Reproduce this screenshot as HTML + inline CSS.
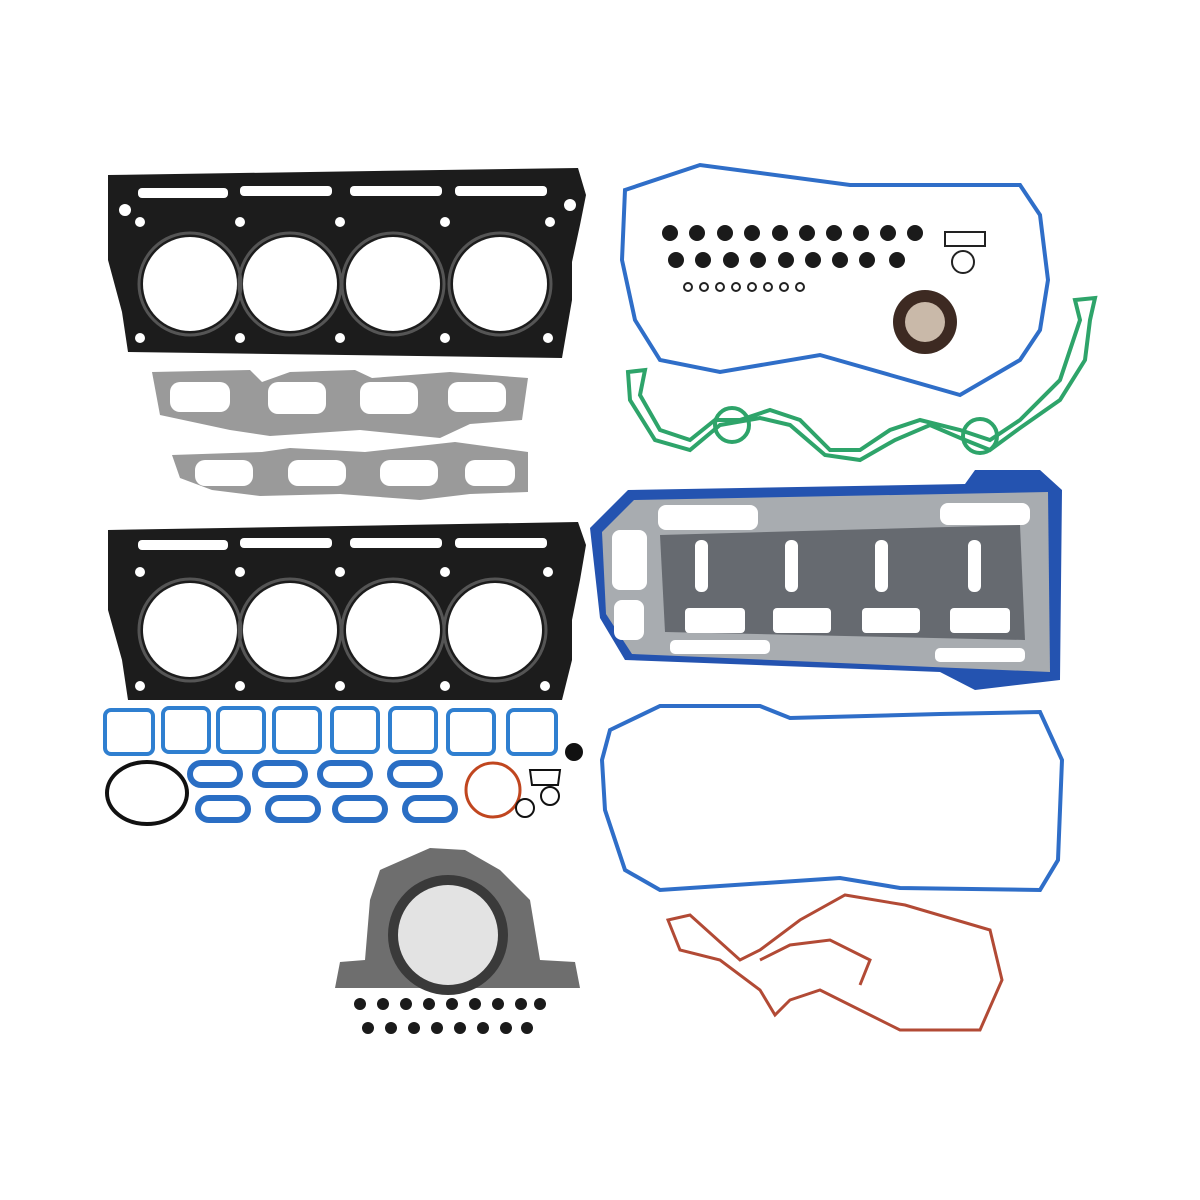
<!DOCTYPE html>
<html><head><style>html,body{margin:0;padding:0;background:#fff}svg{display:block}</style></head><body>
<svg width="1200" height="1200" viewBox="0 0 1200 1200" xmlns="http://www.w3.org/2000/svg">
<rect width="1200" height="1200" fill="#fff"/>
<!-- Head gasket 1 -->
<g>
<path d="M108 175 L578 168 L586 195 L580 225 L572 262 L572 300 L562 358 L128 352 L122 312 L108 260 Z" fill="#1c1c1c"/>
<g fill="#fff">
<circle cx="190" cy="284" r="47"/><circle cx="290" cy="284" r="47"/><circle cx="393" cy="284" r="47"/><circle cx="500" cy="284" r="47"/>
<rect x="138" y="188" width="90" height="10" rx="4"/><rect x="240" y="186" width="92" height="10" rx="4"/><rect x="350" y="186" width="92" height="10" rx="4"/><rect x="455" y="186" width="92" height="10" rx="4"/>
<circle cx="140" cy="222" r="5"/><circle cx="240" cy="222" r="5"/><circle cx="340" cy="222" r="5"/><circle cx="445" cy="222" r="5"/><circle cx="550" cy="222" r="5"/>
<circle cx="140" cy="338" r="5"/><circle cx="240" cy="338" r="5"/><circle cx="340" cy="338" r="5"/><circle cx="445" cy="338" r="5"/><circle cx="548" cy="338" r="5"/>
<circle cx="125" cy="210" r="6"/><circle cx="570" cy="205" r="6"/>
</g>
<g fill="none" stroke="#555" stroke-width="3">
<circle cx="190" cy="284" r="51"/><circle cx="290" cy="284" r="51"/><circle cx="393" cy="284" r="51"/><circle cx="500" cy="284" r="51"/>
</g>
</g>
<!-- Exhaust gaskets -->
<path d="M152 372 L250 370 L262 382 L290 372 L355 370 L372 378 L450 372 L528 378 L522 420 L470 424 L440 438 L360 430 L270 436 L230 430 L160 415 Z" fill="#9a9a9a"/>
<path d="M172 455 L262 452 L290 448 L365 452 L455 442 L528 452 L528 492 L470 494 L420 500 L340 494 L260 496 L212 490 L180 478 Z" fill="#9a9a9a"/>
<g fill="#fff">
<rect x="170" y="382" width="60" height="30" rx="10"/><rect x="268" y="382" width="58" height="32" rx="10"/><rect x="360" y="382" width="58" height="32" rx="10"/><rect x="448" y="382" width="58" height="30" rx="10"/>
<rect x="195" y="460" width="58" height="26" rx="10"/><rect x="288" y="460" width="58" height="26" rx="10"/><rect x="380" y="460" width="58" height="26" rx="10"/><rect x="465" y="460" width="50" height="26" rx="10"/>
</g>
<!-- Head gasket 2 -->
<g>
<path d="M108 530 L578 522 L586 545 L580 580 L572 620 L572 660 L562 700 L128 700 L122 660 L108 610 Z" fill="#1c1c1c"/>
<g fill="#fff">
<circle cx="190" cy="630" r="47"/><circle cx="290" cy="630" r="47"/><circle cx="393" cy="630" r="47"/><circle cx="495" cy="630" r="47"/>
<rect x="138" y="540" width="90" height="10" rx="4"/><rect x="240" y="538" width="92" height="10" rx="4"/><rect x="350" y="538" width="92" height="10" rx="4"/><rect x="455" y="538" width="92" height="10" rx="4"/>
<circle cx="140" cy="572" r="5"/><circle cx="240" cy="572" r="5"/><circle cx="340" cy="572" r="5"/><circle cx="445" cy="572" r="5"/><circle cx="548" cy="572" r="5"/>
<circle cx="140" cy="686" r="5"/><circle cx="240" cy="686" r="5"/><circle cx="340" cy="686" r="5"/><circle cx="445" cy="686" r="5"/><circle cx="545" cy="686" r="5"/>
</g>
<g fill="none" stroke="#555" stroke-width="3">
<circle cx="190" cy="630" r="51"/><circle cx="290" cy="630" r="51"/><circle cx="393" cy="630" r="51"/><circle cx="495" cy="630" r="51"/>
</g>
</g>
<!-- Blue squares -->
<g fill="none" stroke="#2f7fd0" stroke-width="4">
<rect x="105" y="710" width="48" height="44" rx="6"/><rect x="163" y="708" width="46" height="44" rx="6"/><rect x="218" y="708" width="46" height="44" rx="6"/><rect x="274" y="708" width="46" height="44" rx="6"/><rect x="332" y="708" width="46" height="44" rx="6"/><rect x="390" y="708" width="46" height="44" rx="6"/><rect x="448" y="710" width="46" height="44" rx="6"/><rect x="508" y="710" width="48" height="44" rx="6"/>
</g>
<ellipse cx="147" cy="793" rx="40" ry="31" fill="none" stroke="#111" stroke-width="4"/>
<circle cx="574" cy="752" r="9" fill="#111"/>
<g fill="none" stroke="#2a6ec4" stroke-width="6">
<rect x="190" y="763" width="50" height="22" rx="11"/><rect x="255" y="763" width="50" height="22" rx="11"/><rect x="320" y="763" width="50" height="22" rx="11"/><rect x="390" y="763" width="50" height="22" rx="11"/>
<rect x="198" y="798" width="50" height="22" rx="11"/><rect x="268" y="798" width="50" height="22" rx="11"/><rect x="335" y="798" width="50" height="22" rx="11"/><rect x="405" y="798" width="50" height="22" rx="11"/>
</g>
<circle cx="493" cy="790" r="27" fill="none" stroke="#c0461f" stroke-width="3"/>
<circle cx="525" cy="808" r="9" fill="none" stroke="#111" stroke-width="2"/>
<circle cx="550" cy="796" r="9" fill="none" stroke="#111" stroke-width="2"/>
<path d="M530 770 L560 770 L558 785 L532 785 Z" fill="none" stroke="#111" stroke-width="2"/>
<!-- Rear main seal -->
<path d="M380 870 L430 848 L465 850 L500 870 L530 900 L540 960 L575 962 L580 988 L335 988 L340 962 L365 960 L370 900 Z" fill="#6e6e6e"/>
<circle cx="448" cy="935" r="60" fill="#3a3a3a"/>
<circle cx="448" cy="935" r="50" fill="#e3e3e3"/>
<g fill="#1a1a1a">
<circle cx="360" cy="1004" r="6"/><circle cx="383" cy="1004" r="6"/><circle cx="406" cy="1004" r="6"/><circle cx="429" cy="1004" r="6"/><circle cx="452" cy="1004" r="6"/><circle cx="475" cy="1004" r="6"/><circle cx="498" cy="1004" r="6"/><circle cx="521" cy="1004" r="6"/><circle cx="540" cy="1004" r="6"/>
<circle cx="368" cy="1028" r="6"/><circle cx="391" cy="1028" r="6"/><circle cx="414" cy="1028" r="6"/><circle cx="437" cy="1028" r="6"/><circle cx="460" cy="1028" r="6"/><circle cx="483" cy="1028" r="6"/><circle cx="506" cy="1028" r="6"/><circle cx="527" cy="1028" r="6"/>
</g>
<!-- Timing cover gasket -->
<path d="M625 190 L700 165 L850 185 L1020 185 L1040 215 L1048 280 L1040 330 L1020 360 L960 395 L890 375 L820 355 L720 372 L660 360 L635 320 L622 260 Z" fill="none" stroke="#2f6ec8" stroke-width="4"/>
<g fill="#1a1a1a">
<circle cx="670" cy="233" r="8"/><circle cx="697" cy="233" r="8"/><circle cx="725" cy="233" r="8"/><circle cx="752" cy="233" r="8"/><circle cx="780" cy="233" r="8"/><circle cx="807" cy="233" r="8"/><circle cx="834" cy="233" r="8"/><circle cx="861" cy="233" r="8"/><circle cx="888" cy="233" r="8"/><circle cx="915" cy="233" r="8"/>
<circle cx="676" cy="260" r="8"/><circle cx="703" cy="260" r="8"/><circle cx="731" cy="260" r="8"/><circle cx="758" cy="260" r="8"/><circle cx="786" cy="260" r="8"/><circle cx="813" cy="260" r="8"/><circle cx="840" cy="260" r="8"/><circle cx="867" cy="260" r="8"/><circle cx="897" cy="260" r="8"/>
</g>
<g fill="none" stroke="#222" stroke-width="2">
<circle cx="688" cy="287" r="4"/><circle cx="704" cy="287" r="4"/><circle cx="720" cy="287" r="4"/><circle cx="736" cy="287" r="4"/><circle cx="752" cy="287" r="4"/><circle cx="768" cy="287" r="4"/><circle cx="784" cy="287" r="4"/><circle cx="800" cy="287" r="4"/>
<circle cx="963" cy="262" r="11"/><path d="M945 232 L985 232 L985 246 L945 246 Z"/>
</g>
<circle cx="925" cy="322" r="32" fill="#3d2a22"/>
<circle cx="925" cy="322" r="20" fill="#c9b9a9"/>
<!-- Green gasket -->
<path d="M628 372 L645 370 L640 395 L660 430 L690 440 L715 420 L740 420 L770 410 L800 420 L830 450 L860 450 L890 430 L920 420 L960 430 L990 440 L1020 420 L1060 380 L1080 320 L1075 300 L1095 298 L1090 320 L1085 360 L1060 400 L1020 428 L990 450 L965 440 L930 425 L895 440 L860 460 L825 455 L790 425 L760 418 L720 425 L690 450 L655 440 L630 400 Z" fill="none" stroke="#2ea46a" stroke-width="4"/>
<circle cx="732" cy="425" r="17" fill="none" stroke="#2ea46a" stroke-width="4"/>
<circle cx="980" cy="436" r="17" fill="none" stroke="#2ea46a" stroke-width="4"/>
<!-- Oil pan gasket -->
<path d="M590 528 L628 490 L965 484 L975 470 L1040 470 L1062 490 L1060 680 L975 690 L940 672 L625 660 L600 618 Z" fill="#2453b0"/>
<path d="M602 532 L634 500 L1048 492 L1050 672 L632 654 L606 614 Z" fill="#a8acb0"/>
<path d="M660 535 L1020 525 L1025 640 L665 632 Z" fill="#666a70"/>
<g fill="#fff">
<rect x="695" y="540" width="13" height="52" rx="6"/><rect x="785" y="540" width="13" height="52" rx="6"/><rect x="875" y="540" width="13" height="52" rx="6"/><rect x="968" y="540" width="13" height="52" rx="6"/>
<rect x="685" y="608" width="60" height="25" rx="4"/><rect x="773" y="608" width="58" height="25" rx="4"/><rect x="862" y="608" width="58" height="25" rx="4"/><rect x="950" y="608" width="60" height="25" rx="4"/>
<rect x="612" y="530" width="35" height="60" rx="8"/><rect x="658" y="505" width="100" height="25" rx="8"/><rect x="940" y="503" width="90" height="22" rx="8"/>
<rect x="614" y="600" width="30" height="40" rx="8"/><rect x="670" y="640" width="100" height="14" rx="5"/><rect x="935" y="648" width="90" height="14" rx="5"/>
</g>
<!-- Lower blue gasket -->
<path d="M610 730 L660 706 L760 706 L790 718 L940 714 L1040 712 L1062 760 L1058 860 L1040 890 L900 888 L840 878 L660 890 L625 870 L605 810 L602 760 Z" fill="none" stroke="#2f6ec8" stroke-width="4"/>
<!-- Red gasket -->
<path d="M668 920 L690 915 L740 960 L760 950 L800 920 L845 895 L905 905 L990 930 L1002 980 L980 1030 L900 1030 L820 990 L790 1000 L775 1015 L760 990 L720 960 L680 950 Z" fill="none" stroke="#b24a35" stroke-width="3"/>
<path d="M760 960 L790 945 L830 940 L870 960 L860 985" fill="none" stroke="#b24a35" stroke-width="3"/>
</svg>
</body></html>
